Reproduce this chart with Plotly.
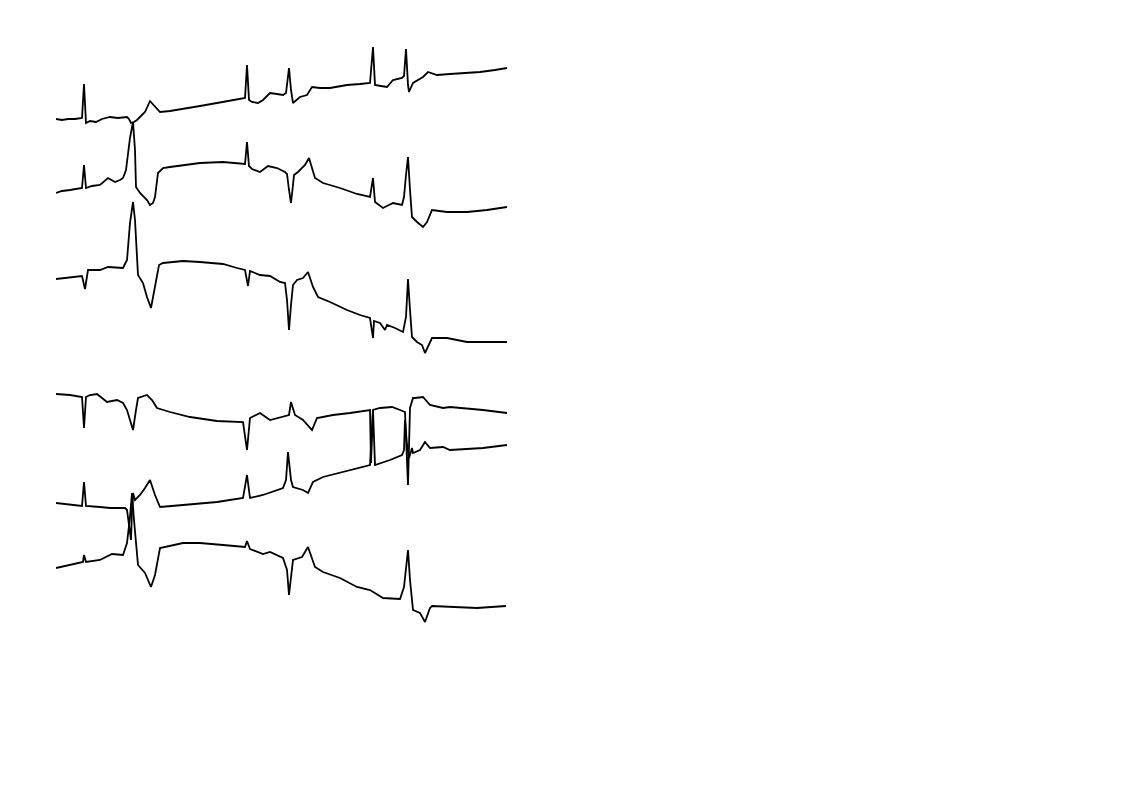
import plotly.graph_objects as go

# Sample index (time) and amplitude (counts) for each lead
LEAD1_T = [0,6,12,19,26,28,30,34,40,46,54,62,71,73,75,78,81,85,89,94,99,104,114,127,144,161,174,189,191,193,196,202,207,214,221,227,230,233,235,237,244,251,256,264,274,291,304,314,317,319,325,331,337,346,348,350,352,353,357,367,372,381,394,407,424,439,451]
LEAD1_V = [0,-1,0,0,1,35,-4,-2,-3,0,2,1,2,0,-4,-3,-1,3,7,18,12,7,8,10,13,16,18,21,54,19,17,16,19,26,25,24,26,51,29,16,22,24,32,31,31,34,35,36,72,34,33,32,39,41,43,70,34,27,36,42,47,44,45,46,47,49,51]

LEAD2_T = [0,6,14,20,26,28,30,36,44,52,59,64,67,70,72,74,77,79,80,84,91,94,97,99,102,107,114,127,144,167,189,191,193,196,204,212,221,229,231,233,235,237,238,242,249,253,256,259,267,284,301,314,317,319,327,337,346,348,350,352,354,356,361,367,371,376,391,411,431,451]
LEAD2_V = [0,2,3,4,5,28,5,7,8,15,11,13,15,23,38,55,71,43,6,0,-7,-12,-10,-4,20,25,26,28,30,31,29,51,27,24,21,27,25,21,19,3,-10,8,18,21,28,35,25,15,10,5,-1,-4,15,-9,-15,-10,-12,-4,18,36,3,-24,-29,-34,-29,-17,-19,-19,-17,-14]

LEAD3_T = [0,14,26,29,32,44,52,67,71,74,77,79,80,82,87,91,95,99,103,107,127,144,167,181,189,192,194,204,214,224,229,231,233,235,237,241,247,252,257,262,274,291,304,314,317,318,324,329,331,339,347,350,352,354,356,361,366,369,372,376,391,411,431,451]
LEAD3_V = [0,2,3,-10,9,9,12,11,19,56,77,59,39,4,-4,-18,-29,-8,14,16,18,17,15,11,9,-7,8,4,3,-3,-4,-21,-51,-26,-6,-1,1,7,-8,-18,-23,-31,-36,-39,-59,-42,-44,-51,-46,-49,-53,-38,0,-31,-58,-63,-66,-74,-68,-59,-59,-63,-63,-63]

LEAD4_T = [0,14,26,28,30,34,41,51,61,67,71,77,80,82,91,96,101,114,134,161,187,191,194,204,214,227,233,235,237,239,247,252,256,261,277,294,314,315,317,324,336,344,349,352,354,357,359,367,374,387,394,427,451]
LEAD4_V = [0,-1,-3,-34,-3,-1,0,-8,-6,-9,-16,-36,-16,-4,-1,-6,-14,-18,-23,-27,-28,-56,-24,-19,-26,-23,-21,-8,-16,-21,-26,-31,-36,-24,-21,-19,-16,-69,-16,-14,-13,-16,-18,-91,-14,-4,-4,-3,-11,-14,-13,-16,-19]

LEAD5_T = [0,14,26,28,30,44,54,69,71,73,75,76,77,79,84,89,94,99,104,127,161,187,191,194,207,227,230,232,235,237,247,252,257,267,287,314,317,319,334,346,348,349,351,353,356,357,364,369,374,387,394,427,451]
LEAD5_V = [0,-2,-3,21,-3,-4,-5,-5,-7,-22,-37,-7,10,3,8,15,23,8,-4,-2,1,5,28,5,8,15,23,51,23,16,13,10,21,26,31,38,93,38,43,48,53,83,58,45,55,50,53,61,55,56,53,55,58]

LEAD6_T = [0,14,27,28,30,44,56,67,71,74,76,78,80,82,89,95,99,104,127,144,167,189,191,194,207,214,227,231,233,235,237,246,252,259,267,284,301,314,327,344,348,352,354,357,364,369,374,376,394,421,450]
LEAD6_V = [0,3,6,13,6,8,14,13,25,51,75,48,21,3,-5,-19,-7,20,25,25,23,21,27,19,14,16,10,-2,-27,-7,8,11,21,1,-4,-10,-19,-22,-30,-31,-19,18,-12,-42,-45,-54,-40,-38,-39,-40,-38]

LEADS = [
    (LEAD1_T, LEAD1_V),
    (LEAD2_T, LEAD2_V),
    (LEAD3_T, LEAD3_V),
    (LEAD4_T, LEAD4_V),
    (LEAD5_T, LEAD5_V),
    (LEAD6_T, LEAD6_V),
]

# Layout: vertical baseline of each lead on the page
BASELINES = [119, 193, 279, 394, 503, 568]

fig = go.Figure()
for (t, v), base in zip(LEADS, BASELINES):
    fig.add_trace(go.Scatter(
        x=t, y=[a - base for a in v], mode="lines",
        line=dict(color="black", width=1.8), hoverinfo="skip", showlegend=False))

fig.update_layout(
    width=1122, height=793,
    margin=dict(l=56, r=615, t=0, b=0),
    paper_bgcolor="white", plot_bgcolor="white",
    xaxis=dict(range=[0, 451], visible=False, fixedrange=True),
    yaxis=dict(range=[-793, 0], visible=False, fixedrange=True),
)
fig.write_html("out.html")
